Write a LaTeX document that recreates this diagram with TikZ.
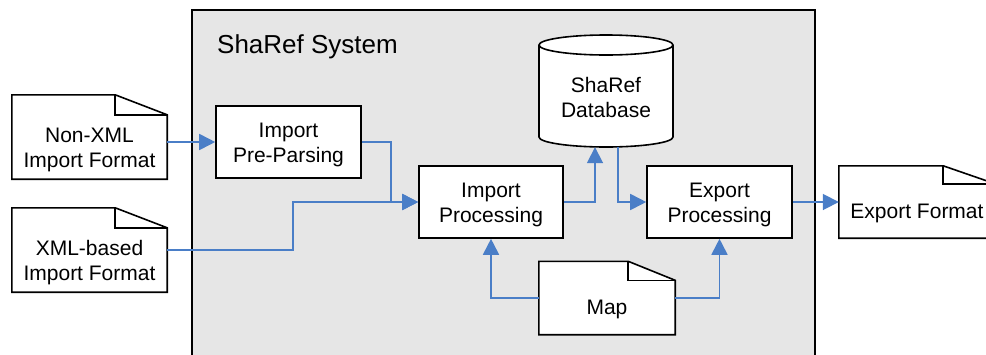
\documentclass[tikz,border=0pt]{standalone}
\usepackage{fontspec}
\setmainfont{Liberation Sans}
\usetikzlibrary{arrows.meta,calc}
\definecolor{sysgray}{HTML}{E6E6E6}
\definecolor{flowblue}{HTML}{4A7EC7}
\newcommand{\twolines}[2]{\raisebox{-8pt}[0pt][0pt]{\begin{tabular}{@{}c@{}}#1\\#2\end{tabular}}}
\tikzset{
  procbox/.style={draw=black, fill=white, line width=1.6pt, minimum width=145pt, minimum height=72pt, inner sep=0pt, font=\fontsize{21}{25}\selectfont},
  docframe/.style={draw=none, inner sep=0pt, minimum width=155pt, minimum height=84pt},
  doctext/.style={inner sep=0pt, align=center, font=\fontsize{21}{25}\selectfont},
  docline/.style={draw=black, fill=white, line width=1.6pt, line join=miter},
  flow/.style={draw=flowblue, line width=1.8pt, -{Triangle[length=16pt,width=16pt]}},
}
\newcommand{\docoutline}[3]{%
  \path[docline] (#1.south west) -- (#1.north west) -- ([xshift=-#2]#1.north east)
     -- ([yshift=-#3]#1.north east) -- (#1.south east) -- cycle;
  \draw[line width=1.6pt] ([xshift=-#2]#1.north east) -- ([xshift=-#2,yshift=-#3]#1.north east)
     -- ([yshift=-#3]#1.north east);}
\begin{document}
\begin{tikzpicture}[x=1pt,y=-1pt]
\useasboundingbox (0,0) rectangle (986,354);
% system box
\draw[fill=sysgray, line width=1.5pt] (192,10) rectangle (815,370);
\node[anchor=west, inner sep=0pt, font=\fontsize{26}{30}\selectfont] (systitle) at (217,47) {ShaRef System};

% documents
\node[docframe] (nonxml) at (89.5,137) {};
\docoutline{nonxml}{52pt}{20pt}
\node[doctext] (nonxmlt) at ([yshift=-13pt]nonxml.center) {Non-XML\\Import Format};

\node[docframe] (xml) at (89.5,250) {};
\docoutline{xml}{52pt}{20pt}
\node[doctext] (xmlt) at ([yshift=-12.5pt]xml.center) {XML-based\\Import Format};

\node[docframe, minimum width=136pt, minimum height=73pt] (map) at (607,298) {};
\docoutline{map}{47pt}{19pt}
\node[doctext] (mapt) at ([yshift=-11pt]map.center) {Map};

\node[docframe, minimum width=156pt, minimum height=72pt] (ef) at (917,202) {};
\docoutline{ef}{52pt}{18pt}
\node[doctext] (eft) at ([yshift=-11pt]ef.center) {Export Format};

% process boxes
\node[procbox] (pp) at (288.5,142) {\twolines{Import}{Pre-Parsing}};
\node[procbox, minimum width=144pt] (ip) at (491,202) {\twolines{Import}{Processing}};
\node[procbox] (ep) at (719.5,202) {\twolines{Export}{Processing}};

% database cylinder
\node[inner sep=0pt, minimum width=134pt, minimum height=112pt] (db) at (606,91) {};
\path[draw=black, fill=white, line width=1.6pt] (539,45) -- (539,137) arc (180:360:67pt and 10pt)
   -- (673,45) arc (0:180:67pt and 10pt) -- cycle;
\draw[line width=1.6pt] (539,45) arc (180:360:67pt and 10pt);
\node[doctext] (dbt) at (606,97) {ShaRef\\Database};

% connectors
\draw[flow] (pp.west -| nonxml.east) -- (pp.west);
\draw[flow] (pp.east) -- ++(29,0) |- (ip.west);
\draw[flow] (xml.east) -- ++(126,0) |- (ip.west);
\draw[flow] (ip.east) -| ([xshift=-11pt]db.south);
\draw[flow] ([xshift=12pt]db.south) |- (ep.west);
\draw[flow] (ep.east) -- (ef.west);
\draw[flow] (map.west) -| (ip.south);
\draw[flow] (map.east) -| (ep.south);
\end{tikzpicture}
\end{document}
